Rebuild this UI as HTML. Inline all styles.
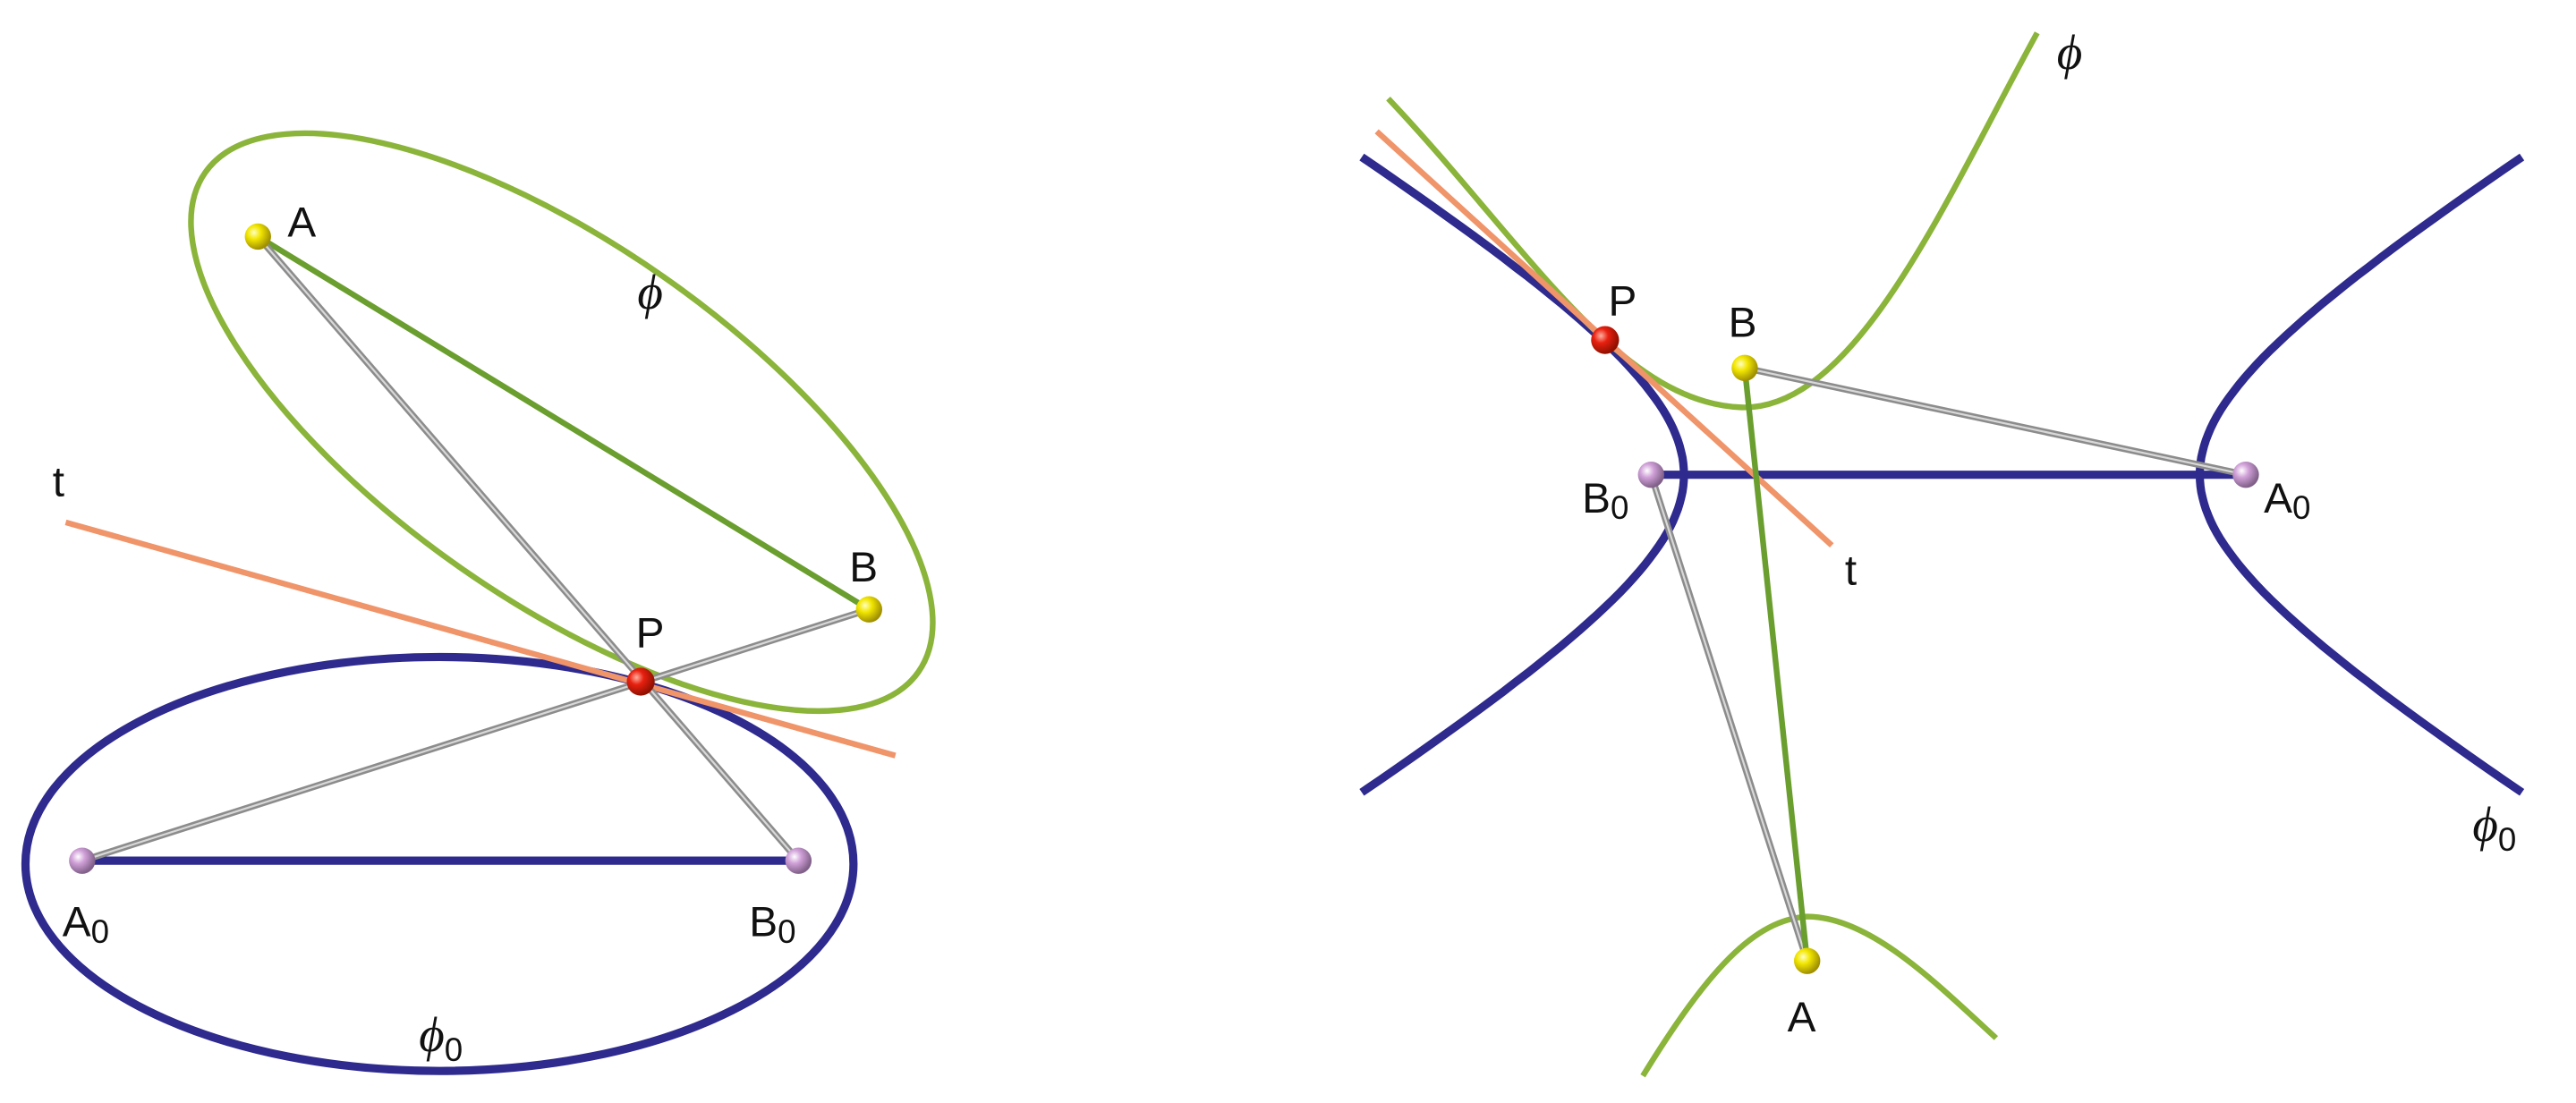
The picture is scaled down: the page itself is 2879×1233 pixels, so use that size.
<!DOCTYPE html>
<html><head><meta charset="utf-8">
<style>
html,body{margin:0;padding:0;background:#fff;}
svg{display:block;}
text{font-family:"Liberation Sans","DejaVu Sans",sans-serif;font-size:26px;fill:#111;}
.it{font-family:"Liberation Serif","DejaVu Serif",serif;font-style:italic;font-size:30px;}
</style></head>
<body>
<svg width="2879" height="1233" viewBox="0 0 1568 671.5" xmlns="http://www.w3.org/2000/svg">
<defs>
<radialGradient id="gy" cx="35%" cy="35%" r="65%"><stop offset="0" stop-color="#ffffc0"/><stop offset="0.4" stop-color="#f2e600"/><stop offset="1" stop-color="#a09000"/></radialGradient>
<radialGradient id="gr" cx="35%" cy="35%" r="65%"><stop offset="0" stop-color="#ffb0a0"/><stop offset="0.4" stop-color="#e82010"/><stop offset="1" stop-color="#901000"/></radialGradient>
<radialGradient id="gp" cx="35%" cy="35%" r="65%"><stop offset="0" stop-color="#ffffff"/><stop offset="0.4" stop-color="#d0a0d8"/><stop offset="1" stop-color="#806088"/></radialGradient>
</defs>

<!-- LEFT FIGURE -->
<ellipse cx="267.5" cy="526" rx="252" ry="126" fill="none" stroke="#2e2a8e" stroke-width="5"/>
<line x1="50" y1="524" x2="486" y2="524" stroke="#2e2a8e" stroke-width="5"/>
<ellipse cx="342" cy="257" rx="265" ry="108" transform="rotate(35 342 257)" fill="none" stroke="#8ab43a" stroke-width="3.5"/>
<line x1="40" y1="318" x2="545" y2="460" stroke="#f0946a" stroke-width="3.5"/>
<line x1="157" y1="144" x2="529" y2="371" stroke="#6a9e2e" stroke-width="3.5"/>
<line x1="157" y1="144" x2="486" y2="524" stroke="#8c8c8c" stroke-width="4"/>
<line x1="157" y1="144" x2="486" y2="524" stroke="#d8d8d8" stroke-width="1.2"/>
<line x1="50" y1="524" x2="529" y2="371" stroke="#8c8c8c" stroke-width="4"/>
<line x1="50" y1="524" x2="529" y2="371" stroke="#d8d8d8" stroke-width="1.2"/>
<circle cx="157" cy="144" r="8" fill="url(#gy)"/>
<circle cx="529" cy="371" r="8" fill="url(#gy)"/>
<circle cx="390" cy="415" r="8.5" fill="url(#gr)"/>
<circle cx="50" cy="524" r="8" fill="url(#gp)"/>
<circle cx="486" cy="524" r="8" fill="url(#gp)"/>
<text x="175" y="144">A</text>
<text class="it" x="388" y="188">ϕ</text>
<text x="32" y="302">t</text>
<text x="517" y="354">B</text>
<text x="387" y="394">P</text>
<text x="38" y="570">A<tspan font-size="20" dy="4">0</tspan></text>
<text x="456" y="570">B<tspan font-size="20" dy="4">0</tspan></text>
<text class="it" x="255" y="640">ϕ<tspan font-size="20" font-style="normal" dy="6" font-family="Liberation Sans">0</tspan></text>

<!-- RIGHT FIGURE -->
<path id="hl" fill="none" stroke="#2e2a8e" stroke-width="5"/>
<path id="hr" fill="none" stroke="#2e2a8e" stroke-width="5"/>
<line x1="1005" y1="289" x2="1367" y2="289" stroke="#2e2a8e" stroke-width="5"/>
<path d="M845,60 C930,150 985,245 1060,248 C1130,250 1185,120 1240,20" fill="none" stroke="#8ab43a" stroke-width="3.5"/>
<path d="M1000,655 C1040,590 1068,560 1100,558 C1138,558 1178,598 1215,632" fill="none" stroke="#8ab43a" stroke-width="3.5"/>
<line x1="838" y1="80" x2="1115" y2="332" stroke="#f0946a" stroke-width="3.5"/>
<line x1="1062" y1="224" x2="1367" y2="289" stroke="#8c8c8c" stroke-width="4"/>
<line x1="1062" y1="224" x2="1367" y2="289" stroke="#d8d8d8" stroke-width="1.2"/>
<line x1="1005" y1="289" x2="1100" y2="585" stroke="#8c8c8c" stroke-width="4"/>
<line x1="1005" y1="289" x2="1100" y2="585" stroke="#d8d8d8" stroke-width="1.2"/>
<line x1="1062" y1="224" x2="1100" y2="585" stroke="#6a9e2e" stroke-width="3.5"/>
<circle cx="977" cy="207" r="8.5" fill="url(#gr)"/>
<circle cx="1062" cy="224" r="8" fill="url(#gy)"/>
<circle cx="1005" cy="289" r="8" fill="url(#gp)"/>
<circle cx="1367" cy="289" r="8" fill="url(#gp)"/>
<circle cx="1100" cy="585" r="8" fill="url(#gy)"/>
<text class="it" x="1252" y="42">ϕ</text>
<text x="979" y="192">P</text>
<text x="1052" y="205">B</text>
<text x="963" y="312">B<tspan font-size="20" dy="4">0</tspan></text>
<text x="1378" y="312">A<tspan font-size="20" dy="4">0</tspan></text>
<text x="1123" y="356">t</text>
<text x="1088" y="628">A</text>
<text class="it" x="1505" y="512">ϕ<tspan font-size="20" font-style="normal" dy="6" font-family="Liberation Sans">0</tspan></text>
</svg>
<script>
(function(){
var cx=1182,cy=289,a=157,b=96;
function br(s){var d="";for(var i=0;i<=80;i++){var t=-1.45+2.9*i/80;var x=cx+s*a*Math.cosh(t),y=cy+b*Math.sinh(t);d+=(i?"L":"M")+x.toFixed(1)+","+y.toFixed(1);}return d;}
document.getElementById("hl").setAttribute("d",br(-1));
document.getElementById("hr").setAttribute("d",br(1));
})();
</script>
</body></html>
